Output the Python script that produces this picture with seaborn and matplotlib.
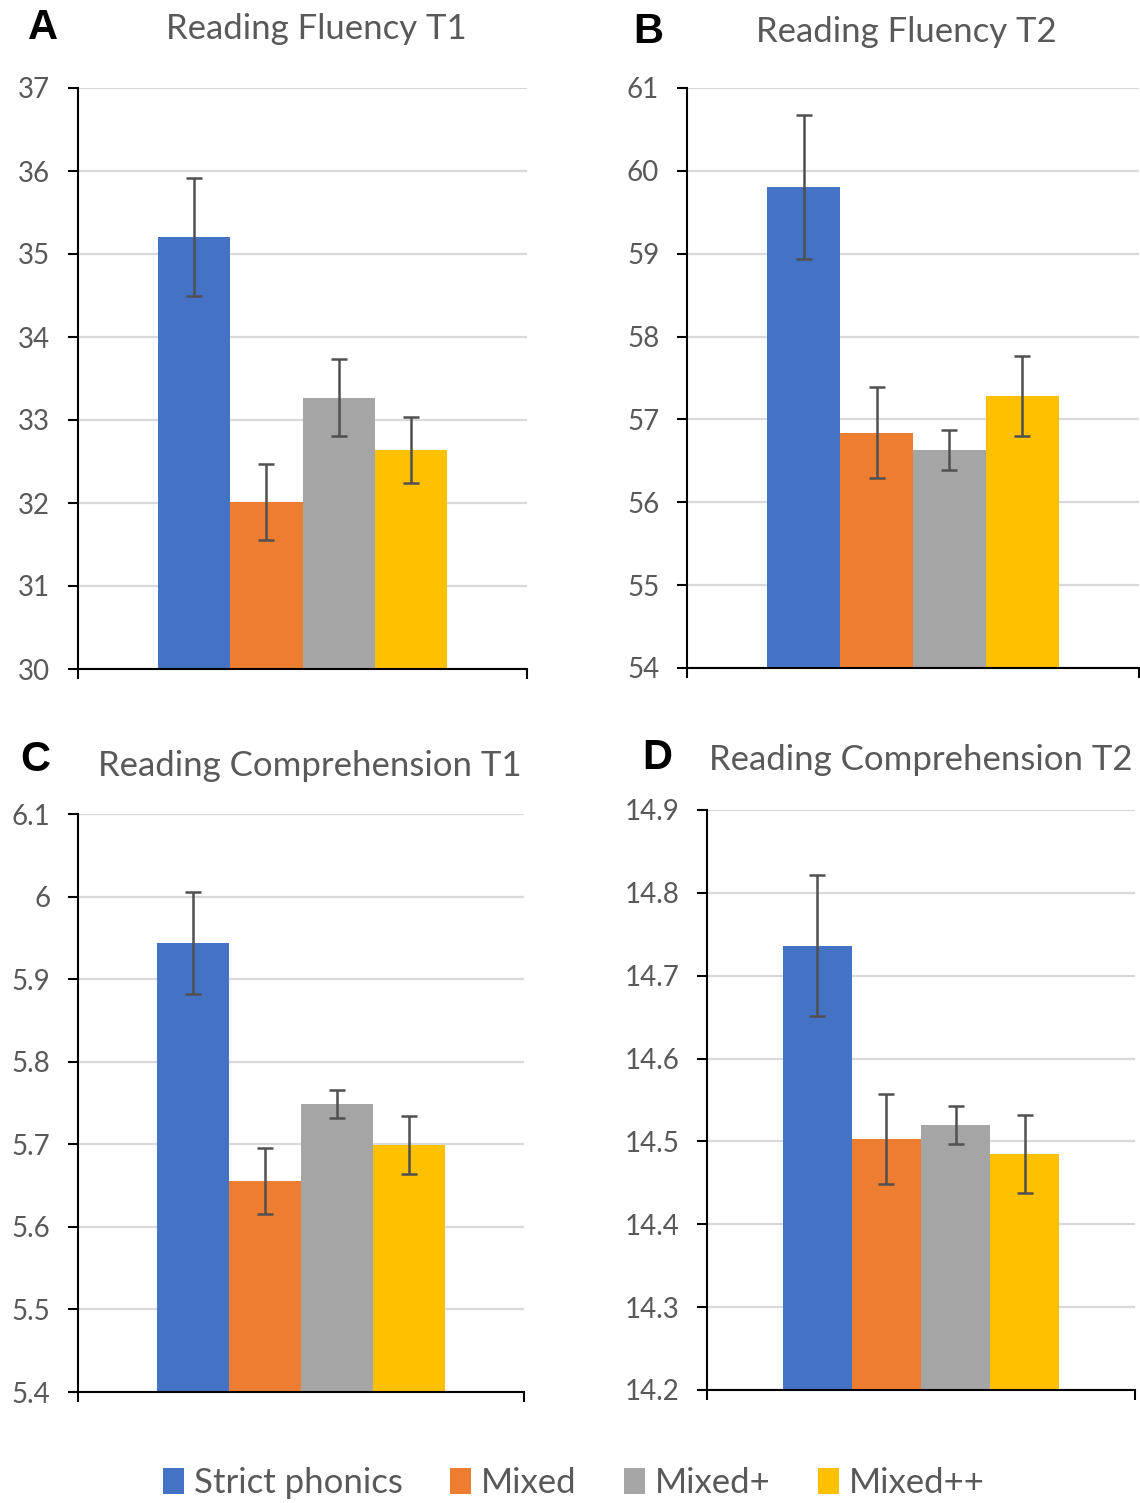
import numpy as np
import pandas as pd
import matplotlib
matplotlib.use("Agg")
import matplotlib.pyplot as plt
import seaborn as sns

# --- data ---
groups = ["Strict phonics", "Mixed", "Mixed+", "Mixed++"]
colors = ["#4472c4", "#ed7d31", "#a5a5a5", "#ffc000"]

titles = ["Reading Fluency T1", "Reading Fluency T2",
          "Reading Comprehension T1", "Reading Comprehension T2"]
letters = ["A", "B", "C", "D"]

fluency_t1 = [35.21, 32.01, 33.27, 32.64]
fluency_t1_err = [0.71, 0.46, 0.46, 0.40]
fluency_t2 = [59.81, 56.84, 56.63, 57.28]
fluency_t2_err = [0.87, 0.55, 0.24, 0.48]
compr_t1 = [5.944, 5.656, 5.749, 5.699]
compr_t1_err = [0.062, 0.040, 0.017, 0.035]
compr_t2 = [14.736, 14.503, 14.520, 14.485]
compr_t2_err = [0.085, 0.054, 0.023, 0.047]

ylims = [(30, 37), (54, 61), (5.4, 6.1), (14.2, 14.9)]
ytick_steps = [1, 1, 0.1, 0.1]
ytick_fmt = ["{:.0f}", "{:.0f}", "{:g}", "{:.1f}"]

means = [fluency_t1, fluency_t2, compr_t1, compr_t2]
errs = [fluency_t1_err, fluency_t2_err, compr_t1_err, compr_t2_err]

sns.set_theme(style="white")
plt.rcParams['font.family'] = ['Lato', 'DejaVu Sans']

W, H = 1140, 1503
fig = plt.figure(figsize=(W / 100, H / 100), dpi=100)

# axes boxes in pixels: left, top, right, bottom
boxes = [(78, 88, 527, 669), (687, 88, 1139, 668),
         (78, 814, 524, 1392), (707, 810, 1135, 1390)]
title_pos = [(316, 29), (906, 32), (310, 766), (921, 760)]
letter_pos = [(43, 28), (648, 32), (35, 760), (657, 758)]

txt_gray = "#595959"
handles, labels = None, None
for i in range(4):
    l, t, r, b = boxes[i]
    ax = fig.add_axes([l / W, (H - b) / H, (r - l) / W, (b - t) / H])
    df = pd.DataFrame({"cat": ["x"] * 4, "group": groups, "value": means[i]})
    sns.barplot(data=df, x="cat", y="value", hue="group", palette=colors,
                hue_order=groups, width=0.645, errorbar=None, ax=ax,
                saturation=1, linewidth=0)
    # error bars at the bar centres computed by seaborn
    bars = ax.patches[:4]
    xs = [p.get_x() + p.get_width() / 2 for p in bars]
    ax.errorbar(xs, means[i], yerr=errs[i], fmt="none", ecolor="#505050",
                elinewidth=1.8, capsize=5.5, capthick=1.8, zorder=5)
    if handles is None:
        handles, labels = ax.get_legend_handles_labels()
    if ax.get_legend() is not None:
        ax.get_legend().remove()

    lo, hi = ylims[i]
    ax.set_ylim(lo, hi)
    ax.set_xlim(-0.5, 0.5)
    ticks = np.round(np.arange(lo, hi + ytick_steps[i] / 2, ytick_steps[i]), 3)
    ax.set_yticks(ticks)
    ax.set_yticklabels([ytick_fmt[i].format(v) for v in ticks])
    ax.set_xticks([-0.5, 0.5])
    ax.set_xticklabels(["", ""])
    ax.set_xlabel("")
    ax.set_ylabel("")
    ax.yaxis.grid(True, color="#d9d9d9", linewidth=1.6)
    ax.set_axisbelow(True)
    for s in ["top", "right"]:
        ax.spines[s].set_visible(False)
    for s in ["left", "bottom"]:
        ax.spines[s].set_color("black")
        ax.spines[s].set_linewidth(1.5)
    ax.tick_params(axis="y", direction="out", length=7, width=1.5,
                   color="black", labelsize=20, labelcolor=txt_gray, pad=13, left=True)
    ax.tick_params(axis="x", direction="out", length=7, width=1.5,
                   color="black", bottom=True)

    tx, ty = title_pos[i]
    fig.text(tx / W, 1 - ty / H, titles[i], ha="center", va="center",
             fontsize=25, color=txt_gray)
    lx, ly = letter_pos[i]
    fig.text(lx / W, 1 - ly / H, letters[i], ha="center", va="center",
             fontsize=30, fontweight="bold", color="black",
             family=["Liberation Sans", "DejaVu Sans"])

leg = fig.legend(handles, labels, loc="center", bbox_to_anchor=(574 / W, 1 - 1483 / H),
                 ncol=4, frameon=False, fontsize=25, handlelength=0.6,
                 handleheight=0.75, handletextpad=0.3, columnspacing=1.35)
for txt in leg.get_texts():
    txt.set_color(txt_gray)

fig.savefig("out.png", dpi=100)
